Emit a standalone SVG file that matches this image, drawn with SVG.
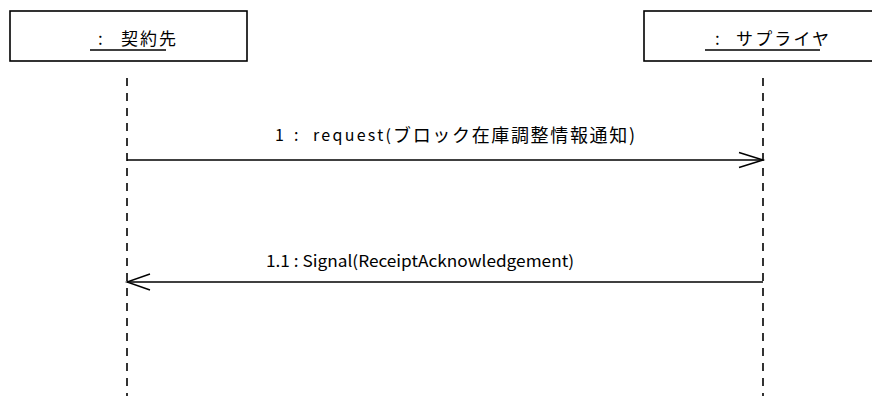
<svg xmlns="http://www.w3.org/2000/svg" width="872" height="396" viewBox="0 0 872 396">
<defs>
<style>
.box{fill:#fff;stroke:#000;stroke-width:1.6}
.life{stroke:#000;stroke-width:1.6;stroke-dasharray:8 7;fill:none}
.msg{stroke:#000;stroke-width:1.4;fill:none}
.head{stroke:#000;stroke-width:1.4;fill:none}
.t{font-family:"Noto Sans CJK JP","Liberation Sans",sans-serif;font-size:16px;fill:#000}
.big{font-size:17px}
.cjk{font-size:18px}
.ul{stroke:#000;stroke-width:1.4}
</style>
</defs>
<rect width="872" height="396" fill="#fff"/>
<g id="lifeline-keiyakusaki">
<rect class="box" x="10" y="11" width="237" height="50"/>
<text class="t big" y="45"><tspan x="98">:</tspan><tspan x="121" textLength="55" lengthAdjust="spacing">契約先</tspan></text>
<line class="ul" x1="90" y1="50" x2="166" y2="50"/>
<line class="life" x1="127" y1="78" x2="127" y2="396"/>
</g>
<g id="lifeline-supplier">
<rect class="box" x="644" y="11" width="240" height="50"/>
<text class="t big" y="45"><tspan x="715">:</tspan><tspan x="736" textLength="93" lengthAdjust="spacing">サプライヤ</tspan></text>
<line class="ul" x1="705" y1="50" x2="820" y2="50"/>
<line class="life" x1="763" y1="78" x2="763" y2="396"/>
</g>
<g id="connectors">
<line class="msg" x1="127" y1="160" x2="763" y2="160"/>
<polyline class="head" points="739,152.5 763,160 739,167.5"/>
<text class="t" x="275" y="141">1</text>
<text class="t" x="294" y="141">:</text>
<text class="t" x="313" y="141" textLength="78" lengthAdjust="spacing">request(</text>
<text class="t cjk" x="393" y="142" textLength="242" lengthAdjust="spacing">ブロック在庫調整情報通知)</text>
<line class="msg" x1="127" y1="282" x2="763" y2="282"/>
<polyline class="head" points="150,274 127,282 150,290"/>
<text class="t" x="266" y="267" textLength="308" lengthAdjust="spacingAndGlyphs">1.1 : Signal(ReceiptAcknowledgement)</text>
</g>
</svg>
